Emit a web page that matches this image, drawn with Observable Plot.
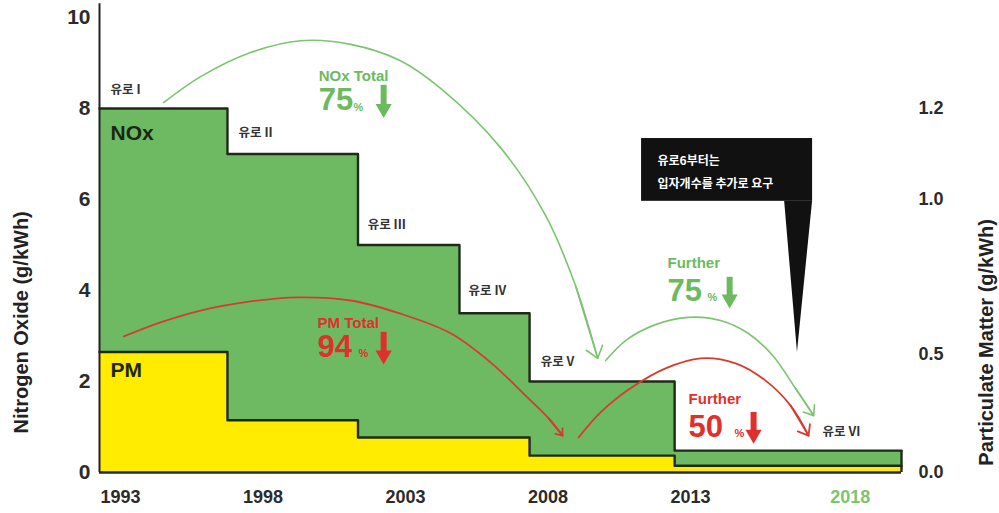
<!DOCTYPE html>
<html>
<head>
<meta charset="utf-8">
<script src="https://cdn.jsdelivr.net/npm/d3@7"></script>
<script src="https://cdn.jsdelivr.net/npm/@observablehq/plot@0.6"></script>
<style>
  html, body { margin: 0; padding: 0; background: #fff; }
  #chart svg { font-family: "Liberation Sans", Arial, sans-serif; }
  g[aria-label="x-axis tick label"] text:last-of-type { fill: #7cc470; }
</style>
</head>
<body>
<div id="chart"></div>
<script>
// ---- data ----
const xDomain = [1992.26, 2020.40];
const stepBounds = [1992.26, 1996.75, 2001.33, 2004.89, 2007.35, 2012.44, 2020.40];
const noxLimit = [8, 7, 5, 3.5, 2, 0.48];          // g/kWh (left axis)
const pmLimit  = [2.65, 1.15, 0.77, 0.77, 0.37, 0.15]; // drawn on left-axis units

const leftTicks = [0, 2, 4, 6, 8, 10];
const rightTickPos = [0, 2.6, 6, 8];
const rightTickLabels = ["0.0", "0.5", "1.0", "1.2"];
const xTickPos = [1993, 1998, 2003, 2008, 2013, 2018.6];
const xTickLabels = ["1993", "1998", "2003", "2008", "2013", "2018"];

const euroLabels = ["유로 I", "유로 II", "유로 III", "유로 IV", "유로 V", "유로 VI"];
const euroLabelX = [1992.65, 1997.14, 2001.67, 2005.21, 2007.74, 2017.63];
const euroLabelY = [8.40, 7.47, 5.43, 3.98, 2.42, 0.88];

const seriesNames = ["NOx", "PM"];
const seriesLabelX = [1992.65, 1992.65];
const seriesLabelY = [7.45, 2.24];

const reductionPollutant = ["NOx", "PM", "NOx", "PM"];
const reductionTitle = ["NOx Total", "PM Total", "Further", "Further"];
const reductionPercent = ["75", "94", "75", "50"];
const reductionX = [1999.95, 1999.91, 2012.19, 2012.93];
const reductionTitleY = [8.70, 3.29, 4.60, 1.62];
const reductionValueY = [8.18, 2.75, 3.99, 1.00];
const percentX = [2001.17, 2001.35, 2013.59, 2014.54];
const percentY = [8.03, 2.61, 3.85, 0.86];
const arrowX = [2002.23, 2002.23, 2014.37, 2015.21];
const arrowTop = [8.51, 3.08, 4.29, 1.32];
const arrowTip = [7.80, 2.38, 3.61, 0.64];

const noxTotalArc = [[1994.51,8.13],[1995.81,8.70],[1997.56,9.23],[1999.32,9.49],[2001.07,9.41],[2002.82,9.05],[2004.23,8.44],[2006.33,7.14],[2007.91,5.65],[2008.96,4.11],[2009.74,2.51]];
const noxFurtherArc = [[2010.02,2.46],[2010.72,2.90],[2011.77,3.25],[2012.93,3.41],[2014.05,3.34],[2015.04,3.05],[2015.88,2.57],[2016.68,1.85],[2017.32,1.25]];
const pmTotalArc = [[1993.11,2.99],[1994.40,3.30],[1995.81,3.56],[1997.56,3.76],[1999.21,3.85],[2001.07,3.78],[2002.82,3.49],[2004.58,3.06],[2005.98,2.42],[2007.21,1.69],[2008.02,1.19],[2008.51,0.81]];
const pmFurtherArc = [[2009.07,0.77],[2009.84,1.32],[2010.89,1.85],[2012.12,2.29],[2013.35,2.51],[2014.58,2.40],[2015.63,2.02],[2016.51,1.47],[2017.14,0.81]];

const calloutLines = ["유로6부터는", "입자개수를 추가로 요구"];
const calloutLineX = [2011.84, 2011.84];
const calloutLineY = [6.84, 6.33];
const calloutBox = {x1: 2011.28, x2: 2017.28, y1: 5.96, y2: 7.34};
const calloutTail = [{y: 5.96, x1: 2016.30, x2: 2017.28}, {y: 2.64, x1: 2016.75, x2: 2016.75}];

const leftTitle = "Nitrogen Oxide (g/kWh)";
const rightTitle = "Particulate Matter (g/kWh)";
const titleX = [1989.52, 2023.38];
const titleY = [3.3, 2.86];

// ---- styles ----
const cGreen = "#6dba63", cYellow = "#ffec00", cOutline = "#1f2a17";
const cArcGreen = "#7cc470", cArcRed = "#d63c2e";
const cTextGreen = "#6cba5e", cTextRed = "#e12f2c", cText = "#2b2b2b";
const kr = "'Noto Sans CJK KR', sans-serif";

const steps = stepBounds.map((x, i) => ({
  x,
  nox: noxLimit[Math.min(i, noxLimit.length - 1)],
  pm: pmLimit[Math.min(i, pmLimit.length - 1)]
}));
const idx = d3.range(euroLabels.length);
const sIdx = d3.range(seriesNames.length);
const rIdx = d3.range(reductionTitle.length);
const rightMap = new Map(rightTickPos.map((p, i) => [p, rightTickLabels[i]]));
const xMap = new Map(xTickPos.map((p, i) => [p, xTickLabels[i]]));
const last2 = a => ({x1: a[a.length - 2][0], y1: a[a.length - 2][1], x2: a[a.length - 1][0], y2: a[a.length - 1][1]});

function reductionMarks(pollutant, color) {
  const f = i => reductionPollutant[i] === pollutant;
  return [
    Plot.text(rIdx, {filter: f, x: i => reductionX[i], y: i => reductionTitleY[i], text: i => reductionTitle[i],
      textAnchor: "start", fontSize: 15, fontWeight: "bold", fill: color}),
    Plot.text(rIdx, {filter: f, x: i => reductionX[i], y: i => reductionValueY[i], text: i => reductionPercent[i],
      textAnchor: "start", fontSize: 31, fontWeight: "bold", fill: color}),
    Plot.text(rIdx, {filter: f, x: i => percentX[i], y: i => percentY[i], text: () => "%",
      textAnchor: "start", fontSize: 11, fontWeight: "bold", fill: color}),
    Plot.ruleX(rIdx, {filter: f, x: i => arrowX[i], y1: i => arrowTop[i], y2: i => arrowTip[i],
      insetBottom: 10, stroke: color, strokeWidth: 6}),
    Plot.dot(rIdx, {filter: f, x: i => arrowX[i], y: i => arrowTip[i], dy: -9, symbol: "triangle",
      r: 6, rotate: 180, fill: color, stroke: "none"})
  ];
}

const chart = Plot.plot({
  width: 999,
  height: 513,
  marginLeft: 99,
  marginRight: 98,
  marginTop: 17,
  marginBottom: 41,
  x: {domain: xDomain},
  y: {domain: [0, 10]},
  marks: [
    Plot.areaY(steps, {x: "x", y: "nox", curve: "step-after", fill: cGreen}),
    Plot.areaY(steps, {x: "x", y: "pm", curve: "step-after", fill: cYellow}),
    Plot.line(steps, {x: "x", y: "nox", curve: "step-after", stroke: cOutline, strokeWidth: 2.4}),
    Plot.line(steps, {x: "x", y: "pm", curve: "step-after", stroke: cOutline, strokeWidth: 2.4}),
    Plot.ruleX([xDomain[1]], {y1: 0, y2: noxLimit[noxLimit.length - 1], stroke: cOutline, strokeWidth: 2.4}),
    Plot.ruleX([xDomain[0]], {y1: 0, y2: 10.3, stroke: "#222", strokeWidth: 2}),
    Plot.ruleY([0], {stroke: cOutline, strokeWidth: 2.6}),

    Plot.axisY({anchor: "left", ticks: leftTicks, tickSize: 0, tickPadding: 9, fontSize: 21, fontWeight: "bold", color: cText, label: null}),
    Plot.axisY({anchor: "right", ticks: rightTickPos, tickFormat: d => rightMap.get(d), tickSize: 0, tickPadding: 17, fontSize: 18, fontWeight: "bold", color: cText, label: null}),
    Plot.axisX({ticks: xTickPos, tickFormat: d => xMap.get(d), tickSize: 0, tickPadding: 18, fontSize: 18, fontWeight: "bold", color: cText, label: null}),

    Plot.text([leftTitle], {x: () => titleX[0], y: () => titleY[0], rotate: -90, fontSize: 20, fontWeight: "bold", fill: "#222"}),
    Plot.text([rightTitle], {x: () => titleX[1], y: () => titleY[1], rotate: -90, fontSize: 20, fontWeight: "bold", fill: "#222"}),

    // arcs
    Plot.line(noxTotalArc, {x: d => d[0], y: d => d[1], curve: "catmull-rom", stroke: cArcGreen, strokeWidth: 1.6}),
    Plot.line(noxFurtherArc, {x: d => d[0], y: d => d[1], curve: "catmull-rom", stroke: cArcGreen, strokeWidth: 1.6}),
    Plot.line(pmTotalArc, {x: d => d[0], y: d => d[1], curve: "catmull-rom", stroke: cArcRed, strokeWidth: 1.8}),
    Plot.line(pmFurtherArc, {x: d => d[0], y: d => d[1], curve: "catmull-rom", stroke: cArcRed, strokeWidth: 1.8}),
    Plot.arrow([noxTotalArc, noxFurtherArc].map(last2), {x1: "x1", y1: "y1", x2: "x2", y2: "y2", stroke: cArcGreen, strokeWidth: 1.6, headLength: 13, headAngle: 75}),
    Plot.arrow([pmTotalArc, pmFurtherArc].map(last2), {x1: "x1", y1: "y1", x2: "x2", y2: "y2", stroke: cArcRed, strokeWidth: 1.8, headLength: 13, headAngle: 75}),

    // labels
    Plot.text(idx, {x: i => euroLabelX[i], y: i => euroLabelY[i], text: i => euroLabels[i], textAnchor: "start",
      fontFamily: kr, fontSize: 12.5, fontWeight: "bold", fill: "#333"}),
    Plot.text(sIdx, {x: i => seriesLabelX[i], y: i => seriesLabelY[i], text: i => seriesNames[i], textAnchor: "start",
      fontSize: 21, fontWeight: "bold", fill: "#1c2615"}),

    ...reductionMarks("NOx", cTextGreen),
    ...reductionMarks("PM", cTextRed),

    // callout
    Plot.rect([calloutBox], {x1: "x1", x2: "x2", y1: "y1", y2: "y2", fill: "#111"}),
    Plot.areaX(calloutTail, {y: "y", x1: "x1", x2: "x2", fill: "#111"}),
    Plot.text(d3.range(calloutLines.length), {x: i => calloutLineX[i], y: i => calloutLineY[i], text: i => calloutLines[i],
      textAnchor: "start", fontFamily: kr, fontSize: 12, fontWeight: "bold", fill: "#fff"})
  ]
});
document.getElementById("chart").appendChild(chart);
</script>
</body>
</html>
